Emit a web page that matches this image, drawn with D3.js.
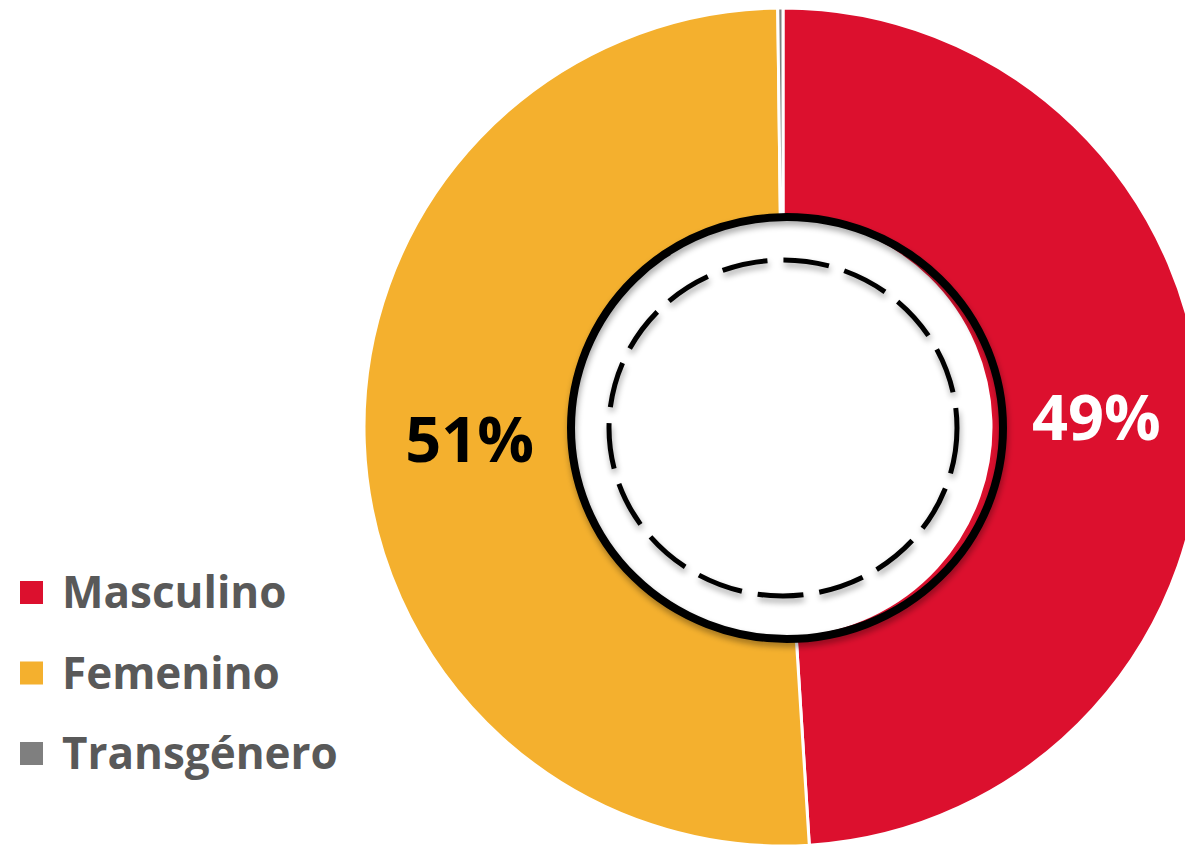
<!DOCTYPE html>
<head>
  <meta charset="utf-8">
  <title>Sexo</title>
  <script src="https://d3js.org/d3.v7.min.js"></script>
  <style type="text/css">
    body { margin: 0; background: #fff; }
    svg { display: block; }
    .slice { stroke: #fff; stroke-width: 3px; }
    .pct { font-family: "Open Sans", sans-serif; font-weight: 700; text-anchor: middle; }
    .legend text { font-family: "Open Sans", sans-serif; font-weight: 700; fill: #595959; }
  </style>
</head>
<body>
  <div id="graph-container"></div>

<script>
// =================== Data ======================
  const categories = ["Masculino", "Femenino", "Transgénero"];
  const values = [49.0, 50.8, 0.2];
  const labels = ["49%", "51%", ""];
  const colors = ["#DC102E", "#F4B02E", "#7F7F7F"];
  const labelColors = ["#fff", "#000", "#000"];

// =================== Chart Prep ======================
  let width = 1185,
      height = 846,
      cx = 783,
      cy = 427,
      outerR = 419,
      innerR = 208;

  var svg = d3.select("#graph-container").append("svg")
        .attr("width", width)
        .attr("height", height);

  // soft shadow for the rings in the hole
  var defs = svg.append("defs");
  var f = defs.append("filter").attr("id", "shadow")
      .attr("x", "-20%").attr("y", "-20%").attr("width", "140%").attr("height", "140%");
  f.append("feGaussianBlur").attr("in", "SourceAlpha").attr("stdDeviation", 3);
  f.append("feOffset").attr("dx", 1).attr("dy", 4).attr("result", "blur");
  f.append("feComponentTransfer").append("feFuncA").attr("type", "linear").attr("slope", 0.35);
  var m = f.append("feMerge");
  m.append("feMergeNode");
  m.append("feMergeNode").attr("in", "SourceGraphic");

  var data = categories.map((c, i) => ({ name: c, value: values[i], label: labels[i], i: i }));

  var pie = d3.pie().sort(null).value(d => d.value);
  var arc = d3.arc().innerRadius(innerR).outerRadius(outerR);

  var g = svg.append("g")
      .attr("transform", "translate(" + cx + "," + cy + ")");

  var arcs = pie(data);

  g.selectAll(".slice")
      .data(arcs)
    .enter().append("path")
      .attr("class", "slice")
      .attr("fill", d => colors[d.data.i])
      .attr("d", arc);

  // rings drawn over the hole
  svg.append("ellipse")
      .attr("cx", 787).attr("cy", 428)
      .attr("rx", 216).attr("ry", 211)
      .attr("fill", "none")
      .attr("stroke", "#000")
      .attr("stroke-width", 8)
      .attr("filter", "url(#shadow)");

  svg.append("ellipse")
      .attr("cx", 783).attr("cy", 428)
      .attr("rx", 174).attr("ry", 168)
      .attr("fill", "none")
      .attr("stroke", "#000")
      .attr("stroke-width", 5)
      .attr("stroke-dasharray", "46 16")
      .attr("filter", "url(#shadow)");

  // percentage labels
  g.selectAll(".pct")
      .data(arcs.filter(d => d.data.label))
    .enter().append("text")
      .attr("class", "pct")
      .attr("x", d => arc.centroid(d)[0])
      .attr("y", d => arc.centroid(d)[1] + 23)
      .attr("font-size", 63)
      .attr("fill", d => labelColors[d.data.i])
      .text(d => d.data.label);

  // legend
  var legend = svg.append("g").attr("class", "legend")
      .attr("transform", "translate(20,581)");

  var item = legend.selectAll("g")
      .data(data)
    .enter().append("g")
      .attr("transform", (d, i) => "translate(0," + (i * 80.5) + ")");

  item.append("rect")
      .attr("width", 23).attr("height", 23)
      .attr("fill", d => colors[d.i]);

  item.append("text")
      .attr("x", 42)
      .attr("y", 27)
      .attr("font-size", 44)
      .text(d => d.name);
</script>
</body>
